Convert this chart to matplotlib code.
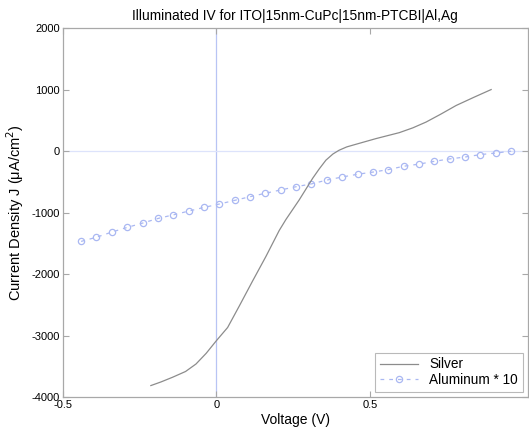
import matplotlib
matplotlib.use("Agg")
import matplotlib.pyplot as plt

plt.rcParams['font.family'] = ['Liberation Sans', 'DejaVu Sans']
plt.rcParams['axes.unicode_minus'] = False

# Silver (measured)
silver_v = [-0.213, -0.18, -0.142, -0.10, -0.066, -0.033, 0.0, 0.037, 0.075, 0.118,
            0.162, 0.205, 0.227, 0.27, 0.314, 0.335, 0.357, 0.38, 0.40, 0.425,
            0.455, 0.52, 0.596, 0.64, 0.683, 0.73, 0.781, 0.84, 0.895]
silver_j = [-3814, -3755, -3678, -3585, -3463, -3290, -3086, -2869, -2519, -2115,
            -1710, -1290, -1110, -793, -440, -290, -146, -45, 16, 70,
            113, 205, 302, 380, 474, 600, 744, 880, 1003]

# Aluminum * 10
al_v = [-0.44, -0.39, -0.34, -0.29, -0.24, -0.19, -0.14, -0.09, -0.04, 0.01,
        0.06, 0.11, 0.16, 0.21, 0.26, 0.31, 0.36, 0.41, 0.46, 0.51,
        0.56, 0.61, 0.66, 0.71, 0.76, 0.81, 0.86, 0.91, 0.96]
al_j = [-1468, -1400, -1316, -1240, -1170, -1095, -1036, -975, -915, -860,
        -800, -740, -685, -630, -578, -532, -470, -420, -375, -340,
        -300, -245, -210, -165, -125, -95, -55, -30, 0]

x_ticks = [-0.5, 0, 0.5]
y_ticks = [-4000, -3000, -2000, -1000, 0, 1000, 2000]

W, H = 529, 433
fig = plt.figure(figsize=(W / 100, H / 100), dpi=100)
ax = fig.add_axes([62.7 / W, 1 - 397 / H, (528 - 62.7) / W, (397 - 28.3) / H])

ax.axvline(0, color='#b8c4f4', lw=0.9, zorder=1)
ax.axhline(0, color='#dde3fb', lw=0.9, zorder=1)

ax.plot(silver_v, silver_j, color='#8c8c8c', lw=0.9, label='Silver', zorder=3)
ax.plot(al_v, al_j, color='#aab8f2', lw=0.9, ls=(0, (3, 4)), marker='o',
        markersize=4.5, markerfacecolor='none', markeredgecolor='#aab8f2',
        markeredgewidth=0.9, label='Aluminum * 10', zorder=2)

ax.set_xlim(-0.5, 1.015)
ax.set_ylim(-4000, 2000)
ax.set_xticks(x_ticks)
ax.set_xticklabels(['-0.5', '0', '0.5'])
ax.set_yticks(y_ticks)

for s in ax.spines.values():
    s.set_color('#a8a8a8')
    s.set_linewidth(0.9)
ax.tick_params(direction='in', length=4, width=0.8, color='#a8a8a8',
               labelsize=8, top=True, right=True, pad=2)

ax.set_title('Illuminated IV for ITO|15nm-CuPc|15nm-PTCBI|Al,Ag', fontsize=9.9, pad=6)
ax.set_xlabel('Voltage (V)', fontsize=10, labelpad=2)
ax.set_ylabel('Current Density J (μA/cm$^2$)', fontsize=10.5, labelpad=4)

leg = ax.legend(loc='lower right', fontsize=9.8, frameon=True, fancybox=False,
                borderaxespad=0.4, handlelength=2.8, borderpad=0.35, labelspacing=0.1)
leg.get_frame().set_edgecolor('#a8a8a8')
leg.get_frame().set_linewidth(0.8)

fig.savefig('out.png', dpi=100)
